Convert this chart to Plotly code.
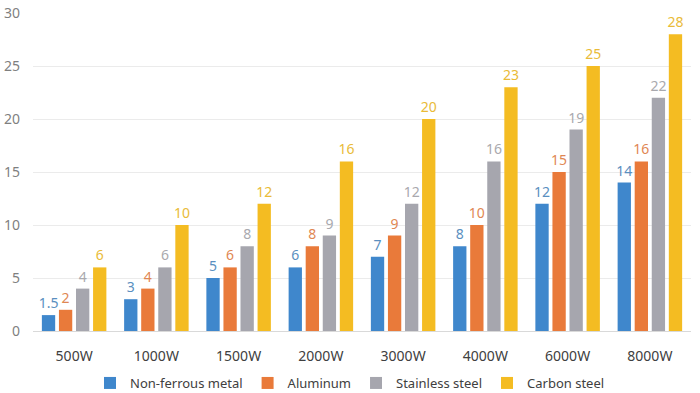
import plotly.graph_objects as go

categories = ["500W", "1000W", "1500W", "2000W", "3000W", "4000W", "6000W", "8000W"]
non_ferrous = [1.5, 3, 5, 6, 7, 8, 12, 14]
aluminum = [2, 4, 6, 8, 9, 10, 15, 16]
stainless = [4, 6, 8, 9, 12, 16, 19, 22]
carbon = [6, 10, 12, 16, 20, 23, 25, 28]

series = [
    ("Non-ferrous metal", non_ferrous, "#3F87CC", "#5A8FC0"),
    ("Aluminum", aluminum, "#E97A3A", "#DF8753"),
    ("Stainless steel", stainless, "#A6A6AE", "#A9A9AE"),
    ("Carbon steel", carbon, "#F4BC22", "#E9BB38"),
]

fig = go.Figure()
for name, vals, col, tcol in series:
    fig.add_trace(go.Bar(
        x=categories, y=vals, name=name,
        marker=dict(color=col, line=dict(width=0)),
        text=[f"{v:g}" for v in vals], textposition="outside",
        textfont=dict(color=tcol, size=14, family="Noto Sans"),
        constraintext="none",
        cliponaxis=False,
    ))

fig.update_layout(
    width=700, height=393,
    margin=dict(l=33, r=9, t=13, b=62, autoexpand=False),
    paper_bgcolor="white", plot_bgcolor="white",
    barmode="group", bargap=0.17, bargroupgap=0.22,
    font=dict(family="Noto Sans", size=14, color="#595959"),
    showlegend=True,
    legend=dict(orientation="h", x=0.5, xanchor="center", xref="container",
                y=10 / 393, yanchor="middle", yref="container",
                font=dict(size=13, color="#404040"), itemwidth=30,
                traceorder="normal", tracegroupgap=0),
    uniformtext=dict(mode=False),
)
fig.update_xaxes(showgrid=False, showline=True, linecolor="#D9D9D9", linewidth=1,
                 ticks="", ticklabelstandoff=12, automargin=False,
                 tickfont=dict(size=14, color="#404040"))
fig.update_yaxes(range=[0, 30], dtick=5, showgrid=True, gridcolor="#EBEBEB", gridwidth=1,
                 zeroline=False, showline=False, ticks="", ticklabelstandoff=12,
                 automargin=False,
                 tickfont=dict(size=14, color="#7F7F7F"))

fig.write_html("out.html")
